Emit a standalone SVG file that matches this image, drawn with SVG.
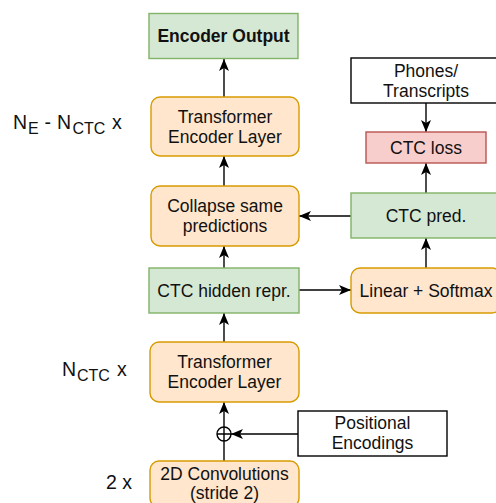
<svg xmlns="http://www.w3.org/2000/svg" width="496" height="503" viewBox="0 0 496 503">
  <defs>
    <style>
      .txt { font-family: "Liberation Sans", Arial, Helvetica, sans-serif; font-size: 17.5px; fill: #111; text-anchor: middle; }
      .bold { font-weight: bold; }
      .lbl { font-family: "Liberation Sans", Arial, Helvetica, sans-serif; font-size: 19.5px; fill: #111; }
      .sub { font-size: 16px; }
      .green { fill: #d5e8d4; stroke: #82b366; stroke-width: 1.4; }
      .orange { fill: #ffe6cc; stroke: #d79b00; stroke-width: 1.4; }
      .red { fill: #f8cecc; stroke: #b85450; stroke-width: 1.4; }
      .plain { fill: #ffffff; stroke: #000000; stroke-width: 1.4; }
      .edge { fill: none; stroke: #000000; stroke-width: 1.4; }
    </style>
    <marker id="arrow" markerUnits="userSpaceOnUse" viewBox="0 0 12 10" refX="12" refY="5" markerWidth="12" markerHeight="10" orient="auto">
      <path d="M0,0 L12,5 L0,10 L3,5 z" fill="#000000"/>
    </marker>
  </defs>

  <!-- repetition labels -->
  <text class="lbl" y="129"><tspan x="13">N</tspan><tspan class="sub" x="28" dy="5">E</tspan><tspan x="44.5" dy="-5">-</tspan><tspan x="57">N</tspan><tspan class="sub" x="72.5" dy="5">CTC</tspan><tspan x="112" dy="-5">x</tspan></text>
  <text class="lbl" y="376"><tspan x="62">N</tspan><tspan class="sub" x="77" dy="5">CTC</tspan><tspan x="117" dy="-5">x</tspan></text>
  <text class="lbl" x="106" y="489">2 x</text>

  <!-- connectors -->
  <g id="connectors">
    <path class="edge" d="M224,97 L224,59" marker-end="url(#arrow)"/>
    <path class="edge" d="M224,186 L224,156" marker-end="url(#arrow)"/>
    <path class="edge" d="M224,268 L224,246" marker-end="url(#arrow)"/>
    <path class="edge" d="M224,342 L224,313" marker-end="url(#arrow)"/>
    <path class="edge" d="M224,427 L224,402" marker-end="url(#arrow)"/>
    <path class="edge" d="M224,461 L224,427"/>
    <path class="edge" d="M298,434 L231,434" marker-end="url(#arrow)"/>
    <path class="edge" d="M299,290 L351,290" marker-end="url(#arrow)"/>
    <path class="edge" d="M351,216 L299,216" marker-end="url(#arrow)"/>
    <path class="edge" d="M426,268 L426,238" marker-end="url(#arrow)"/>
    <path class="edge" d="M426,193 L426,163" marker-end="url(#arrow)"/>
    <path class="edge" d="M426,103 L426,132" marker-end="url(#arrow)"/>
  </g>

  <!-- left column -->
  <g id="encoder-output">
    <rect class="green" x="149" y="13.5" width="149" height="45"/>
    <text class="txt bold" x="223.5" y="42">Encoder Output</text>
  </g>
  <g id="transformer-upper">
    <rect class="orange" x="151" y="97" width="148" height="59" rx="9"/>
    <text class="txt" x="225" y="123">Transformer</text>
    <text class="txt" x="225" y="143">Encoder Layer</text>
  </g>
  <g id="collapse">
    <rect class="orange" x="151" y="186" width="148" height="60" rx="9"/>
    <text class="txt" x="225" y="212">Collapse same</text>
    <text class="txt" x="225" y="232">predictions</text>
  </g>
  <g id="ctc-hidden">
    <rect class="green" x="149" y="268" width="150" height="45"/>
    <text class="txt" x="224" y="296.5">CTC hidden repr.</text>
  </g>
  <g id="transformer-lower">
    <rect class="orange" x="150" y="342" width="149" height="60" rx="9"/>
    <text class="txt" x="224.5" y="368">Transformer</text>
    <text class="txt" x="224.5" y="388">Encoder Layer</text>
  </g>
  <g id="add">
    <circle cx="224" cy="434" r="7" fill="#ffffff" stroke="#000000" stroke-width="1.4"/>
    <path class="edge" d="M217,434 L231,434 M224,427 L224,441"/>
  </g>
  <g id="conv2d">
    <rect class="orange" x="150" y="461" width="149" height="46" rx="9"/>
    <text class="txt" x="224.5" y="480">2D Convolutions</text>
    <text class="txt" x="224.5" y="499">(stride 2)</text>
  </g>

  <!-- right column -->
  <g id="phones-transcripts">
    <rect class="plain" x="351" y="58" width="150" height="45"/>
    <text class="txt" x="426" y="76.5">Phones/</text>
    <text class="txt" x="426" y="96.5">Transcripts</text>
  </g>
  <g id="ctc-loss">
    <rect class="red" x="366" y="132" width="120" height="31"/>
    <text class="txt" x="426" y="154">CTC loss</text>
  </g>
  <g id="ctc-pred">
    <rect class="green" x="351" y="193" width="150" height="45"/>
    <text class="txt" x="426" y="221.5">CTC pred.</text>
  </g>
  <g id="linear-softmax">
    <rect class="orange" x="351" y="268" width="150" height="45" rx="9"/>
    <text class="txt" x="426" y="296.5">Linear + Softmax</text>
  </g>
  <g id="positional-encodings">
    <rect class="plain" x="298" y="411" width="149" height="45"/>
    <text class="txt" x="372.5" y="429">Positional</text>
    <text class="txt" x="372.5" y="449">Encodings</text>
  </g>
</svg>
